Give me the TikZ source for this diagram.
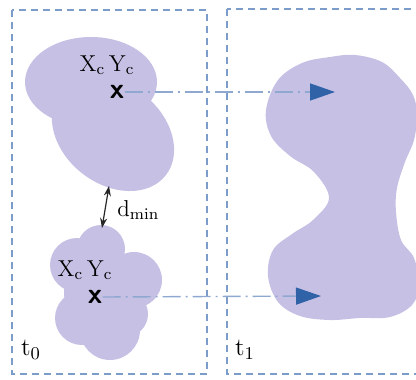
\documentclass[tikz,border=0pt]{standalone}
\usetikzlibrary{arrows.meta, positioning, shapes.geometric}
\definecolor{azulmarco}{HTML}{7C9CC9}
\definecolor{azulpunta}{HTML}{2F62A6}
\definecolor{azullinea}{HTML}{8FA8D0}
\definecolor{lilacluster}{HTML}{C6C0E5}
\colorlet{colMarco}{azulmarco}
\colorlet{colPunta}{azulpunta}
\colorlet{colLinea}{azullinea}
\colorlet{colCluster}{lilacluster}
\tikzset{
  marcoTiempo/.style={draw=colMarco, line width=1pt, dash pattern=on 3.5pt off 2.5pt},
  masaCluster/.style={fill=colCluster, draw=none},
  lineaCentro/.style={draw=colLinea, line width=0.7pt,
    dash pattern=on 9pt off 2.5pt on 1pt off 2.5pt,
    -{Triangle[length=12.5pt, width=8.5pt, color=colPunta, fill=colPunta]}},
  marcaCentro/.style={font=\sffamily\bfseries\Large, inner sep=0pt},
  etiquetaCentro/.style={font=\fontsize{11.5}{13}\selectfont, inner sep=0pt},
  etiquetaTiempo/.style={font=\fontsize{12.5}{14}\selectfont, inner sep=0pt},
  flechaDoble/.style={{Stealth[length=5pt, width=3.5pt]}-{Stealth[length=5pt, width=3.5pt]}, semithick, black!85},
}

\begin{document}
\begin{tikzpicture}[x=0.5pt, y=-0.5pt]
    \clip (0,0) rectangle (416,379);

    % marcos de tiempo
    \draw[marcoTiempo] (12,10) rectangle (207,374);
    \draw[marcoTiempo] (227,9) rectangle (440,374);

    % clusters en t0
    \fill[masaCluster] (91,82) ellipse [x radius=66, y radius=45];
    \fill[masaCluster, rotate around={-38:(113,134)}] (113,134) ellipse [x radius=67, y radius=50];

    \fill[masaCluster] (106,292) circle (42);
    \fill[masaCluster] (101,249) circle (24);
    \fill[masaCluster] (77,265) circle (27);
    \fill[masaCluster] (134,280) circle (28);
    \fill[masaCluster] (82,318) circle (27);
    \fill[masaCluster] (110,330) circle (30);
    \fill[masaCluster] (125,314) circle (23);

    % cluster fusionado en t1
    \fill[masaCluster] plot[smooth cycle, tension=0.6] coordinates {
      (266,110) (278,80) (302,63) (330,57) (355,55) (382,62) (400,78) (413,95)
      (417,115) (414,140) (405,162) (397,188) (396,212) (401,240) (414,258)
      (419,285) (412,305) (390,317) (360,318) (330,320) (300,316) (278,302)
      (268,276) (273,250) (292,234) (313,220) (329,198) (314,172) (290,156) (271,136)};

    % centroides
    \node[marcaCentro] (c1) at (117,92) {x};
    \node[marcaCentro] (c2) at (95,297) {x};
    \node[etiquetaCentro, above=5pt of c1, xshift=-5pt] (lc1) {X$_{\mathrm{c}}$\,Y$_{\mathrm{c}}$};
    \node[etiquetaCentro, above=5pt of c2, xshift=-5pt] (lc2) {X$_{\mathrm{c}}$\,Y$_{\mathrm{c}}$};

    \coordinate (p1) at (335,92);
    \coordinate (p2) at (321,296);
    \draw[lineaCentro] (c1.east) -- (p1);
    \draw[lineaCentro] (c2.east) -- (p2);

    % distancia minima
    \coordinate (dArriba) at (109,186);
    \coordinate (dAbajo) at (102,228);
    \draw[flechaDoble] (dArriba) -- (dAbajo);
    \node[etiquetaCentro, anchor=west] (dmin) at (117,210) {d$_{\mathrm{min}}$};

    \node[etiquetaTiempo] (t0) at (31,350) {t$_0$};
    \node[etiquetaTiempo] (t1) at (245,350) {t$_1$};
\end{tikzpicture}
\end{document}
